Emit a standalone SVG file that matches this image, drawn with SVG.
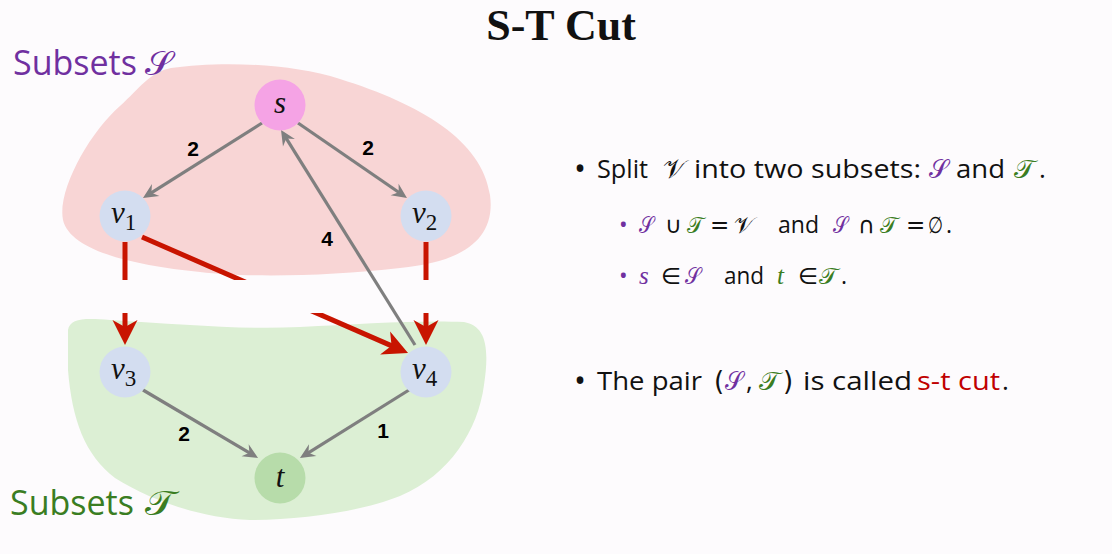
<svg xmlns="http://www.w3.org/2000/svg" width="1112" height="554" viewBox="0 0 1112 554">
<style>
.node-s{fill:#f5a3e5}
.node-v{fill:#d3ddf0}
.node-t{fill:#b7dcaa}
.nlab{font-family:"Liberation Serif",serif;font-style:italic;font-size:31px;fill:#111}
.sub{font-size:23px;font-style:normal}
.elab{font-family:"Liberation Sans",Arial,sans-serif;font-weight:bold;font-size:21px;fill:#000;text-anchor:middle}
.gray{stroke:#7f7f7f;stroke-width:3.2;fill:none;marker-end:url(#ah-gray)}
.red{stroke:#c81400;stroke-width:5;fill:none;marker-end:url(#ah-red)}
.txt{font-family:"Open Sans",Lato,sans-serif;fill:#111}
.l1{font-size:26px}
.l2{font-size:23px}
.blt{font-size:32px}
.scr{font-family:"DejaVu Serif","Liberation Serif",serif}
.it{font-family:"Liberation Serif",serif;font-style:italic;font-size:25px}
.op{font-family:"DejaVu Sans","Liberation Serif",serif}
.pur{fill:#7030a0}
.grn{fill:#3a7d22}
.redt{fill:#c00000}
</style>
<defs>
<marker id="ah-red" viewBox="-8 -13 27 26" refX="4" refY="0" markerWidth="27" markerHeight="26" markerUnits="userSpaceOnUse" orient="auto">
<path d="M18,0 L-7,-12.5 L0,0 L-7,12.5 Z" fill="#c81400"/>
</marker>
<marker id="ah-gray" viewBox="-6 -8 17 16" refX="3" refY="0" markerWidth="17" markerHeight="16" markerUnits="userSpaceOnUse" orient="auto">
<path d="M10,0 L-5,-7 L0,0 L-5,7 Z" fill="#7f7f7f"/>
</marker>
<clipPath id="gap">
<rect x="0" y="0" width="1112" height="280"/>
<rect x="0" y="313" width="1112" height="241"/>
</clipPath>
</defs>
<rect x="0" y="0" width="1112" height="554" fill="#fdfbfd"/>

<g id="title">
<text x="561" y="40" font-family="Liberation Serif,serif" font-weight="bold" font-size="44" text-anchor="middle" fill="#111">S-T Cut</text>
</g>

<g id="subset-S">
<path d="M171,68 C220,61 290,63 340,79 C420,104 482,140 490,195 C496,240 462,262 400,268 C330,276 250,278 200,272 C130,265 70,250 63,220 C57,190 90,132 120,106 C140,88 150,72 171,68 Z" fill="#f8d5d5"/>
<text x="13" y="75" class="txt pur" font-size="34">Subsets</text>
<text x="145" y="75" class="scr pur" font-size="34" textLength="27" lengthAdjust="spacingAndGlyphs">𝒮</text>
</g>

<g id="subset-T">
<path d="M68,330 C70,318 85,318 110,320 C180,324 240,330 300,327 C360,324 420,320 464,322 C485,326 490,345 484,385 C478,430 450,475 400,496 C360,512 300,520 250,520 C200,518 150,500 115,478 C85,455 72,420 68,370 Z" fill="#dcefd4"/>
<text x="10" y="515" class="txt grn" font-size="34">Subsets</text>
<text x="145" y="515" class="scr grn" font-size="34" textLength="30" lengthAdjust="spacingAndGlyphs">𝒯</text>
</g>

<g id="connectors">
<g clip-path="url(#gap)">
<line class="red" x1="125" y1="242" x2="125" y2="331"/>
<line class="red" x1="426" y1="242" x2="426" y2="331"/>
<line class="red" x1="142" y1="237" x2="395.2" y2="347.4"/>
</g>
<line class="gray" x1="262" y1="123" x2="148.9" y2="194.3"/>
<line class="gray" x1="298" y1="123" x2="401.2" y2="194"/>
<line class="gray" x1="415" y1="345" x2="284.7" y2="135.9"/>
<line class="gray" x1="143" y1="390" x2="252" y2="454.4"/>
<line class="gray" x1="409" y1="390" x2="305.9" y2="454.3"/>
<text class="elab" x="193" y="156">2</text>
<text class="elab" x="368" y="155">2</text>
<text class="elab" x="327" y="246">4</text>
<text class="elab" x="184" y="441">2</text>
<text class="elab" x="383" y="438">1</text>
</g>

<g id="node-s">
<circle class="node-s" cx="280" cy="105" r="25.5"/>
<text class="nlab" x="280" y="113" text-anchor="middle">s</text>
</g>
<g id="node-v1">
<circle class="node-v" cx="125" cy="216" r="25.5"/>
<text class="nlab" x="111" y="223">v<tspan class="sub" dy="7">1</tspan></text>
</g>
<g id="node-v2">
<circle class="node-v" cx="426" cy="216" r="25.5"/>
<text class="nlab" x="412" y="223">v<tspan class="sub" dy="7">2</tspan></text>
</g>
<g id="node-v3">
<circle class="node-v" cx="125" cy="372" r="25.5"/>
<text class="nlab" x="111" y="379">v<tspan class="sub" dy="7">3</tspan></text>
</g>
<g id="node-v4">
<circle class="node-v" cx="426" cy="372" r="25.5"/>
<text class="nlab" x="412" y="379">v<tspan class="sub" dy="7">4</tspan></text>
</g>
<g id="node-t">
<circle class="node-t" cx="280" cy="478" r="25.5"/>
<text class="nlab" x="280" y="487" text-anchor="middle">t</text>
</g>

<g id="bullet-1">
<text class="txt blt" x="574" y="180">•</text>
<text class="txt l1" x="597" y="178" textLength="51" lengthAdjust="spacingAndGlyphs">Split</text>
<text class="scr l1" x="663" y="178" textLength="23" lengthAdjust="spacingAndGlyphs" fill="#111">𝒱</text>
<text class="txt l1" x="694" y="178" textLength="227" lengthAdjust="spacingAndGlyphs">into two subsets:</text>
<text class="scr l1 pur" x="929" y="178" textLength="19" lengthAdjust="spacingAndGlyphs">𝒮</text>
<text class="txt l1" x="956" y="178" textLength="49" lengthAdjust="spacingAndGlyphs">and</text>
<text class="scr l1 grn" x="1014" y="178" textLength="21" lengthAdjust="spacingAndGlyphs">𝒯</text>
<text class="txt l1" x="1039" y="178">.</text>
</g>

<g id="bullet-2">
<text class="txt l2 pur" x="619" y="233">•</text>
<text class="scr l2 pur" x="639" y="233" textLength="15" lengthAdjust="spacingAndGlyphs">𝒮</text>
<text class="op l2" x="665" y="233" fill="#111">∪</text>
<text class="scr l2 grn" x="687" y="233" textLength="17" lengthAdjust="spacingAndGlyphs">𝒯</text>
<text class="op l2" x="710" y="233" fill="#111">=</text>
<text class="scr l2" x="734" y="233" textLength="20" lengthAdjust="spacingAndGlyphs" fill="#111">𝒱</text>
<text class="txt l2" x="778" y="233" textLength="41" lengthAdjust="spacingAndGlyphs">and</text>
<text class="scr l2 pur" x="833" y="233" textLength="15" lengthAdjust="spacingAndGlyphs">𝒮</text>
<text class="op l2" x="858" y="233" fill="#111">∩</text>
<text class="scr l2 grn" x="880" y="233" textLength="18" lengthAdjust="spacingAndGlyphs">𝒯</text>
<text class="op l2" x="906" y="233" fill="#111">=</text>
<text class="op l2" x="928" y="233" fill="#111" textLength="15" lengthAdjust="spacingAndGlyphs">∅</text>
<text class="txt l2" x="946" y="233">.</text>
</g>

<g id="bullet-3">
<text class="txt l2 pur" x="619" y="284">•</text>
<text class="it pur" x="639" y="284">s</text>
<text class="op l2" x="661" y="284" fill="#111">∈</text>
<text class="scr l2 pur" x="685" y="284" textLength="16" lengthAdjust="spacingAndGlyphs">𝒮</text>
<text class="txt l2" x="724" y="284" textLength="40" lengthAdjust="spacingAndGlyphs">and</text>
<text class="it grn" x="777" y="284">t</text>
<text class="op l2" x="798" y="284" fill="#111">∈</text>
<text class="scr l2 grn" x="819" y="284" textLength="19" lengthAdjust="spacingAndGlyphs">𝒯</text>
<text class="txt l2" x="841" y="284">.</text>
</g>

<g id="bullet-4">
<text class="txt blt" x="574" y="392">•</text>
<text class="txt l1" x="597" y="390" textLength="105" lengthAdjust="spacingAndGlyphs">The pair</text>
<text class="op l1" x="714" y="390" fill="#111">(</text>
<text class="scr l1 pur" x="725" y="390" textLength="18" lengthAdjust="spacingAndGlyphs">𝒮</text>
<text class="txt l1" x="746" y="390">,</text>
<text class="scr l1 grn" x="759" y="390" textLength="21" lengthAdjust="spacingAndGlyphs">𝒯</text>
<text class="op l1" x="783" y="390" fill="#111">)</text>
<text class="txt l1" x="803" y="390" textLength="109" lengthAdjust="spacingAndGlyphs">is called</text>
<text class="txt l1 redt" x="917" y="390" textLength="83" lengthAdjust="spacingAndGlyphs">s-t cut</text>
<text class="txt l1" x="1002" y="390">.</text>
</g>
</svg>
